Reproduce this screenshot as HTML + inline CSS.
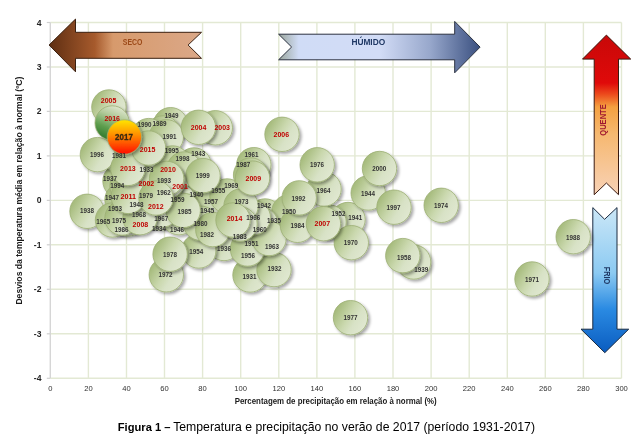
<!DOCTYPE html>
<html><head><meta charset="utf-8"><style>
html,body{margin:0;padding:0;background:#fff;width:638px;height:444px;overflow:hidden}
svg{display:block;will-change:transform}
text{font-family:"Liberation Sans",sans-serif}
</style></head><body>
<svg width="638" height="444" viewBox="0 0 638 444">
<defs>
<linearGradient id="gb" x1="0" y1="0.2" x2="1" y2="0.8">
<stop offset="0" stop-color="#9db470"/><stop offset="0.45" stop-color="#cad8ae"/><stop offset="0.65" stop-color="#d8e2c6"/><stop offset="1" stop-color="#e2e9d3"/>
</linearGradient>
<linearGradient id="g16" x1="0.65" y1="0" x2="0.25" y2="1">
<stop offset="0" stop-color="#e0e8d0"/><stop offset="0.3" stop-color="#b2ca9a"/><stop offset="0.65" stop-color="#5e9e4e"/><stop offset="1" stop-color="#2a7428"/>
</linearGradient>
<linearGradient id="g17" x1="0" y1="0" x2="0" y2="1">
<stop offset="0" stop-color="#ffe600"/><stop offset="0.45" stop-color="#ff8c00"/><stop offset="1" stop-color="#ff0a00"/>
</linearGradient>
<linearGradient id="gseco" x1="0" y1="0" x2="1" y2="0">
<stop offset="0" stop-color="#5e2e12"/><stop offset="0.3" stop-color="#a65a2c"/><stop offset="0.42" stop-color="#d79a6c"/><stop offset="1" stop-color="#dba888"/>
</linearGradient>
<linearGradient id="ghum" x1="0" y1="0" x2="1" y2="0">
<stop offset="0" stop-color="#9aa59b"/><stop offset="0.1" stop-color="#d0dcf6"/><stop offset="0.5" stop-color="#d2dcf6"/><stop offset="0.75" stop-color="#98a8cc"/><stop offset="1" stop-color="#3a5080"/>
</linearGradient>
<linearGradient id="gq" x1="0" y1="0" x2="0" y2="1">
<stop offset="0" stop-color="#c80808"/><stop offset="0.3" stop-color="#e00a0a"/><stop offset="0.37" stop-color="#ec4a1c"/><stop offset="0.45" stop-color="#f5a040"/><stop offset="0.62" stop-color="#f6b870"/><stop offset="1" stop-color="#f8d2b6"/>
</linearGradient>
<linearGradient id="gf" x1="0" y1="0" x2="0" y2="1">
<stop offset="0" stop-color="#cbe7f7"/><stop offset="0.45" stop-color="#8ccaf2"/><stop offset="0.7" stop-color="#2a8ae2"/><stop offset="1" stop-color="#0a5cc0"/>
</linearGradient>
<filter id="sh" x="-30%" y="-30%" width="160%" height="160%">
<feGaussianBlur in="SourceAlpha" stdDeviation="1.6"/><feOffset dx="1.5" dy="1.5" result="o"/>
<feComponentTransfer><feFuncA type="linear" slope="0.35"/></feComponentTransfer>
<feMerge><feMergeNode/><feMergeNode in="SourceGraphic"/></feMerge>
</filter>
</defs>

<g stroke="#e3e9d4" stroke-width="1.4"><line x1="88.4" y1="22.5" x2="88.4" y2="378.3"/><line x1="126.5" y1="22.5" x2="126.5" y2="378.3"/><line x1="164.5" y1="22.5" x2="164.5" y2="378.3"/><line x1="202.6" y1="22.5" x2="202.6" y2="378.3"/><line x1="240.7" y1="22.5" x2="240.7" y2="378.3"/><line x1="278.8" y1="22.5" x2="278.8" y2="378.3"/><line x1="316.9" y1="22.5" x2="316.9" y2="378.3"/><line x1="354.9" y1="22.5" x2="354.9" y2="378.3"/><line x1="393.0" y1="22.5" x2="393.0" y2="378.3"/><line x1="431.1" y1="22.5" x2="431.1" y2="378.3"/><line x1="469.2" y1="22.5" x2="469.2" y2="378.3"/><line x1="507.3" y1="22.5" x2="507.3" y2="378.3"/><line x1="545.3" y1="22.5" x2="545.3" y2="378.3"/><line x1="583.4" y1="22.5" x2="583.4" y2="378.3"/><line x1="621.5" y1="22.5" x2="621.5" y2="378.3"/><line x1="50.3" y1="22.5" x2="621.5" y2="22.5"/><line x1="50.3" y1="67.0" x2="621.5" y2="67.0"/><line x1="50.3" y1="111.4" x2="621.5" y2="111.4"/><line x1="50.3" y1="155.9" x2="621.5" y2="155.9"/><line x1="50.3" y1="200.4" x2="621.5" y2="200.4"/><line x1="50.3" y1="244.8" x2="621.5" y2="244.8"/><line x1="50.3" y1="289.3" x2="621.5" y2="289.3"/><line x1="50.3" y1="333.8" x2="621.5" y2="333.8"/><line x1="50.3" y1="378.3" x2="621.5" y2="378.3"/></g>
<line x1="50.3" y1="22.5" x2="50.3" y2="378.3" stroke="#d6d6d6" stroke-width="1.4"/>
<g stroke="#d0d0d0" stroke-width="1.2"><line x1="46.8" y1="22.5" x2="50.3" y2="22.5"/><line x1="46.8" y1="67.0" x2="50.3" y2="67.0"/><line x1="46.8" y1="111.4" x2="50.3" y2="111.4"/><line x1="46.8" y1="155.9" x2="50.3" y2="155.9"/><line x1="46.8" y1="200.4" x2="50.3" y2="200.4"/><line x1="46.8" y1="244.8" x2="50.3" y2="244.8"/><line x1="46.8" y1="289.3" x2="50.3" y2="289.3"/><line x1="46.8" y1="333.8" x2="50.3" y2="333.8"/><line x1="46.8" y1="378.3" x2="50.3" y2="378.3"/></g>
<g font-size="8.6" font-weight="bold" fill="#262626"><text x="41.5" y="25.5" text-anchor="end">4</text><text x="41.5" y="70.0" text-anchor="end">3</text><text x="41.5" y="114.4" text-anchor="end">2</text><text x="41.5" y="158.9" text-anchor="end">1</text><text x="41.5" y="203.4" text-anchor="end">0</text><text x="41.5" y="247.8" text-anchor="end">-1</text><text x="41.5" y="292.3" text-anchor="end">-2</text><text x="41.5" y="336.8" text-anchor="end">-3</text><text x="41.5" y="381.3" text-anchor="end">-4</text></g>
<g font-size="7.6" fill="#303030"><text x="50.3" y="391.2" text-anchor="middle">0</text><text x="88.4" y="391.2" text-anchor="middle">20</text><text x="126.5" y="391.2" text-anchor="middle">40</text><text x="164.5" y="391.2" text-anchor="middle">60</text><text x="202.6" y="391.2" text-anchor="middle">80</text><text x="240.7" y="391.2" text-anchor="middle">100</text><text x="278.8" y="391.2" text-anchor="middle">120</text><text x="316.9" y="391.2" text-anchor="middle">140</text><text x="354.9" y="391.2" text-anchor="middle">160</text><text x="393.0" y="391.2" text-anchor="middle">180</text><text x="431.1" y="391.2" text-anchor="middle">200</text><text x="469.2" y="391.2" text-anchor="middle">220</text><text x="507.3" y="391.2" text-anchor="middle">240</text><text x="545.3" y="391.2" text-anchor="middle">260</text><text x="583.4" y="391.2" text-anchor="middle">280</text><text x="621.5" y="391.2" text-anchor="middle">300</text></g>
<text x="234.7" y="403.6" font-size="8.6" font-weight="bold" fill="#1a1a1a" textLength="202" lengthAdjust="spacingAndGlyphs">Percentagem de precipitação em relação à normal (%)</text>
<text transform="translate(21.7,304.6) rotate(-90)" x="0" y="0" font-size="8.4" font-weight="bold" fill="#1a1a1a" textLength="228" lengthAdjust="spacingAndGlyphs">Desvios da temperatura média em relação à normal  (ºC)</text>
<text x="117.8" y="430.6" font-size="11.6" font-weight="bold" fill="#000" textLength="52.6" lengthAdjust="spacingAndGlyphs">Figura 1 –</text><text x="173.2" y="430.6" font-size="11.9" fill="#000" textLength="361.8" lengthAdjust="spacingAndGlyphs">Temperatura e precipitação no verão de 2017 (período 1931-2017)</text>
<path d="M49.1,45 L75.5,19.1 L75.5,32.3 L201.5,32.3 L188.1,45 L201.5,58.3 L75.5,58.3 L75.5,71.8 Z" fill="url(#gseco)" stroke="#3a2010" stroke-width="1"/>
<text x="132.6" y="44.6" font-size="8.6" font-weight="bold" fill="#9c4a18" text-anchor="middle" textLength="19.6" lengthAdjust="spacingAndGlyphs">SECO</text>
<path d="M278.6,34.2 L454.7,34.2 L454.7,21.4 L480.1,47.1 L454.7,72.8 L454.7,59.8 L278.6,59.8 L291.6,47 Z" fill="url(#ghum)" stroke="#2a3040" stroke-width="1"/>
<text x="368.3" y="45.2" font-size="8.6" font-weight="bold" fill="#1f3864" text-anchor="middle" textLength="33.8" lengthAdjust="spacingAndGlyphs">HÚMIDO</text>
<path d="M606.4,35.1 L630.7,59.1 L618.5,59.1 L618.5,194.7 L606.4,183 L594.2,194.7 L594.2,59.1 L582.5,59.1 Z" fill="url(#gq)" stroke="#3a1a10" stroke-width="1"/>
<text transform="translate(605.5,120) rotate(-90)" x="0" y="0" font-size="9" font-weight="bold" fill="#a01830" text-anchor="middle" textLength="31.5" lengthAdjust="spacingAndGlyphs">QUENTE</text>
<path d="M592.8,207.6 L604.6,219.3 L617,207.6 L617,329.2 L628.7,329.2 L604.8,352.7 L581,329.2 L592.8,329.2 Z" fill="url(#gf)" stroke="#1a2a40" stroke-width="1"/>
<text transform="translate(603.8,275.5) rotate(90)" x="0" y="0" font-size="9" font-weight="bold" fill="#1f3864" text-anchor="middle" textLength="17.5" lengthAdjust="spacingAndGlyphs">FRIO</text>
<circle cx="250" cy="275" r="17.2" fill="url(#gb)" stroke="#9cae74" stroke-width="0.8" filter="url(#sh)"/>
<circle cx="274" cy="269.6" r="17.2" fill="url(#gb)" stroke="#9cae74" stroke-width="0.8" filter="url(#sh)"/>
<circle cx="146.4" cy="169" r="17.2" fill="url(#gb)" stroke="#9cae74" stroke-width="0.8" filter="url(#sh)"/>
<circle cx="160" cy="213" r="17.2" fill="url(#gb)" stroke="#9cae74" stroke-width="0.8" filter="url(#sh)"/>
<circle cx="274" cy="220.5" r="17.2" fill="url(#gb)" stroke="#9cae74" stroke-width="0.8" filter="url(#sh)"/>
<circle cx="224" cy="243.5" r="17.2" fill="url(#gb)" stroke="#9cae74" stroke-width="0.8" filter="url(#sh)"/>
<circle cx="120" cy="181" r="17.2" fill="url(#gb)" stroke="#9cae74" stroke-width="0.8" filter="url(#sh)"/>
<circle cx="87" cy="211.3" r="17.2" fill="url(#gb)" stroke="#9cae74" stroke-width="0.8" filter="url(#sh)"/>
<circle cx="413.6" cy="262" r="17.2" fill="url(#gb)" stroke="#9cae74" stroke-width="0.8" filter="url(#sh)"/>
<circle cx="205" cy="186" r="17.2" fill="url(#gb)" stroke="#9cae74" stroke-width="0.8" filter="url(#sh)"/>
<circle cx="348" cy="219.5" r="17.2" fill="url(#gb)" stroke="#9cae74" stroke-width="0.8" filter="url(#sh)"/>
<circle cx="265" cy="216" r="17.2" fill="url(#gb)" stroke="#9cae74" stroke-width="0.8" filter="url(#sh)"/>
<circle cx="194" cy="165" r="17.2" fill="url(#gb)" stroke="#9cae74" stroke-width="0.8" filter="url(#sh)"/>
<circle cx="368.2" cy="193" r="17.2" fill="url(#gb)" stroke="#9cae74" stroke-width="0.8" filter="url(#sh)"/>
<circle cx="207.3" cy="210.5" r="17.2" fill="url(#gb)" stroke="#9cae74" stroke-width="0.8" filter="url(#sh)"/>
<circle cx="179" cy="217.7" r="17.2" fill="url(#gb)" stroke="#9cae74" stroke-width="0.8" filter="url(#sh)"/>
<circle cx="122" cy="200" r="17.2" fill="url(#gb)" stroke="#9cae74" stroke-width="0.8" filter="url(#sh)"/>
<circle cx="136.4" cy="204.9" r="17.2" fill="url(#gb)" stroke="#9cae74" stroke-width="0.8" filter="url(#sh)"/>
<circle cx="170.5" cy="124.7" r="17.2" fill="url(#gb)" stroke="#9cae74" stroke-width="0.8" filter="url(#sh)"/>
<circle cx="288.9" cy="211.9" r="17.2" fill="url(#gb)" stroke="#9cae74" stroke-width="0.8" filter="url(#sh)"/>
<circle cx="252" cy="238" r="17.2" fill="url(#gb)" stroke="#9cae74" stroke-width="0.8" filter="url(#sh)"/>
<circle cx="329" cy="222" r="17.2" fill="url(#gb)" stroke="#9cae74" stroke-width="0.8" filter="url(#sh)"/>
<circle cx="130" cy="210" r="17.2" fill="url(#gb)" stroke="#9cae74" stroke-width="0.8" filter="url(#sh)"/>
<circle cx="198.7" cy="251" r="17.2" fill="url(#gb)" stroke="#9cae74" stroke-width="0.8" filter="url(#sh)"/>
<circle cx="215" cy="200" r="17.2" fill="url(#gb)" stroke="#9cae74" stroke-width="0.8" filter="url(#sh)"/>
<circle cx="247.5" cy="249" r="17.2" fill="url(#gb)" stroke="#9cae74" stroke-width="0.8" filter="url(#sh)"/>
<circle cx="211" cy="201.2" r="17.2" fill="url(#gb)" stroke="#9cae74" stroke-width="0.8" filter="url(#sh)"/>
<circle cx="402.8" cy="255.6" r="17.2" fill="url(#gb)" stroke="#9cae74" stroke-width="0.8" filter="url(#sh)"/>
<circle cx="177.6" cy="199.4" r="17.2" fill="url(#gb)" stroke="#9cae74" stroke-width="0.8" filter="url(#sh)"/>
<circle cx="261" cy="224.5" r="17.2" fill="url(#gb)" stroke="#9cae74" stroke-width="0.8" filter="url(#sh)"/>
<circle cx="253.8" cy="164.7" r="17.2" fill="url(#gb)" stroke="#9cae74" stroke-width="0.8" filter="url(#sh)"/>
<circle cx="163.8" cy="192" r="17.2" fill="url(#gb)" stroke="#9cae74" stroke-width="0.8" filter="url(#sh)"/>
<circle cx="269" cy="238.5" r="17.2" fill="url(#gb)" stroke="#9cae74" stroke-width="0.8" filter="url(#sh)"/>
<circle cx="324" cy="189" r="17.2" fill="url(#gb)" stroke="#9cae74" stroke-width="0.8" filter="url(#sh)"/>
<circle cx="112.5" cy="220" r="17.2" fill="url(#gb)" stroke="#9cae74" stroke-width="0.8" filter="url(#sh)"/>
<circle cx="253.3" cy="217.6" r="17.2" fill="url(#gb)" stroke="#9cae74" stroke-width="0.8" filter="url(#sh)"/>
<circle cx="162" cy="210" r="17.2" fill="url(#gb)" stroke="#9cae74" stroke-width="0.8" filter="url(#sh)"/>
<circle cx="139" cy="214" r="17.2" fill="url(#gb)" stroke="#9cae74" stroke-width="0.8" filter="url(#sh)"/>
<circle cx="227" cy="196" r="17.2" fill="url(#gb)" stroke="#9cae74" stroke-width="0.8" filter="url(#sh)"/>
<circle cx="351.3" cy="242.7" r="17.2" fill="url(#gb)" stroke="#9cae74" stroke-width="0.8" filter="url(#sh)"/>
<circle cx="532" cy="279" r="17.2" fill="url(#gb)" stroke="#9cae74" stroke-width="0.8" filter="url(#sh)"/>
<circle cx="166.3" cy="274.8" r="17.2" fill="url(#gb)" stroke="#9cae74" stroke-width="0.8" filter="url(#sh)"/>
<circle cx="241" cy="206" r="17.2" fill="url(#gb)" stroke="#9cae74" stroke-width="0.8" filter="url(#sh)"/>
<circle cx="441.2" cy="205.3" r="17.2" fill="url(#gb)" stroke="#9cae74" stroke-width="0.8" filter="url(#sh)"/>
<circle cx="128" cy="219" r="17.2" fill="url(#gb)" stroke="#9cae74" stroke-width="0.8" filter="url(#sh)"/>
<circle cx="317.2" cy="164.8" r="17.2" fill="url(#gb)" stroke="#9cae74" stroke-width="0.8" filter="url(#sh)"/>
<circle cx="350.5" cy="317.7" r="17.2" fill="url(#gb)" stroke="#9cae74" stroke-width="0.8" filter="url(#sh)"/>
<circle cx="170.1" cy="254.2" r="17.2" fill="url(#gb)" stroke="#9cae74" stroke-width="0.8" filter="url(#sh)"/>
<circle cx="146" cy="195.2" r="17.2" fill="url(#gb)" stroke="#9cae74" stroke-width="0.8" filter="url(#sh)"/>
<circle cx="200.5" cy="223.2" r="17.2" fill="url(#gb)" stroke="#9cae74" stroke-width="0.8" filter="url(#sh)"/>
<circle cx="119" cy="155.7" r="17.2" fill="url(#gb)" stroke="#9cae74" stroke-width="0.8" filter="url(#sh)"/>
<circle cx="212.8" cy="229.6" r="17.2" fill="url(#gb)" stroke="#9cae74" stroke-width="0.8" filter="url(#sh)"/>
<circle cx="240" cy="224" r="17.2" fill="url(#gb)" stroke="#9cae74" stroke-width="0.8" filter="url(#sh)"/>
<circle cx="297.4" cy="225.3" r="17.2" fill="url(#gb)" stroke="#9cae74" stroke-width="0.8" filter="url(#sh)"/>
<circle cx="183.2" cy="210.4" r="17.2" fill="url(#gb)" stroke="#9cae74" stroke-width="0.8" filter="url(#sh)"/>
<circle cx="122" cy="218" r="17.2" fill="url(#gb)" stroke="#9cae74" stroke-width="0.8" filter="url(#sh)"/>
<circle cx="250.6" cy="175" r="17.2" fill="url(#gb)" stroke="#9cae74" stroke-width="0.8" filter="url(#sh)"/>
<circle cx="573.2" cy="236.7" r="17.2" fill="url(#gb)" stroke="#9cae74" stroke-width="0.8" filter="url(#sh)"/>
<circle cx="163" cy="133" r="17.2" fill="url(#gb)" stroke="#9cae74" stroke-width="0.8" filter="url(#sh)"/>
<circle cx="148.7" cy="135.6" r="17.2" fill="url(#gb)" stroke="#9cae74" stroke-width="0.8" filter="url(#sh)"/>
<circle cx="166.3" cy="136.8" r="17.2" fill="url(#gb)" stroke="#9cae74" stroke-width="0.8" filter="url(#sh)"/>
<circle cx="299.2" cy="197.9" r="17.2" fill="url(#gb)" stroke="#9cae74" stroke-width="0.8" filter="url(#sh)"/>
<circle cx="163.9" cy="180.2" r="17.2" fill="url(#gb)" stroke="#9cae74" stroke-width="0.8" filter="url(#sh)"/>
<circle cx="127" cy="186" r="17.2" fill="url(#gb)" stroke="#9cae74" stroke-width="0.8" filter="url(#sh)"/>
<circle cx="172.5" cy="163" r="17.2" fill="url(#gb)" stroke="#9cae74" stroke-width="0.8" filter="url(#sh)"/>
<circle cx="97.4" cy="154.6" r="17.2" fill="url(#gb)" stroke="#9cae74" stroke-width="0.8" filter="url(#sh)"/>
<circle cx="394" cy="207.2" r="17.2" fill="url(#gb)" stroke="#9cae74" stroke-width="0.8" filter="url(#sh)"/>
<circle cx="184" cy="169" r="17.2" fill="url(#gb)" stroke="#9cae74" stroke-width="0.8" filter="url(#sh)"/>
<circle cx="203" cy="175.6" r="17.2" fill="url(#gb)" stroke="#9cae74" stroke-width="0.8" filter="url(#sh)"/>
<circle cx="379.5" cy="168.5" r="17.2" fill="url(#gb)" stroke="#9cae74" stroke-width="0.8" filter="url(#sh)"/>
<circle cx="168" cy="181" r="17.2" fill="url(#gb)" stroke="#9cae74" stroke-width="0.8" filter="url(#sh)"/>
<circle cx="146.4" cy="183.2" r="17.2" fill="url(#gb)" stroke="#9cae74" stroke-width="0.8" filter="url(#sh)"/>
<circle cx="215.3" cy="127.8" r="17.2" fill="url(#gb)" stroke="#9cae74" stroke-width="0.8" filter="url(#sh)"/>
<circle cx="198.4" cy="127.3" r="17.2" fill="url(#gb)" stroke="#9cae74" stroke-width="0.8" filter="url(#sh)"/>
<circle cx="108.9" cy="107" r="17.2" fill="url(#gb)" stroke="#9cae74" stroke-width="0.8" filter="url(#sh)"/>
<circle cx="282" cy="134.3" r="17.2" fill="url(#gb)" stroke="#9cae74" stroke-width="0.8" filter="url(#sh)"/>
<circle cx="323.4" cy="223.7" r="17.2" fill="url(#gb)" stroke="#9cae74" stroke-width="0.8" filter="url(#sh)"/>
<circle cx="140" cy="217.7" r="17.2" fill="url(#gb)" stroke="#9cae74" stroke-width="0.8" filter="url(#sh)"/>
<circle cx="252.5" cy="178.1" r="17.2" fill="url(#gb)" stroke="#9cae74" stroke-width="0.8" filter="url(#sh)"/>
<circle cx="166.6" cy="178.4" r="17.2" fill="url(#gb)" stroke="#9cae74" stroke-width="0.8" filter="url(#sh)"/>
<circle cx="128.2" cy="196.4" r="17.2" fill="url(#gb)" stroke="#9cae74" stroke-width="0.8" filter="url(#sh)"/>
<circle cx="156" cy="198" r="17.2" fill="url(#gb)" stroke="#9cae74" stroke-width="0.8" filter="url(#sh)"/>
<circle cx="127.9" cy="168.4" r="17.2" fill="url(#gb)" stroke="#9cae74" stroke-width="0.8" filter="url(#sh)"/>
<circle cx="233" cy="220" r="17.2" fill="url(#gb)" stroke="#9cae74" stroke-width="0.8" filter="url(#sh)"/>
<circle cx="148.5" cy="148" r="17.2" fill="url(#gb)" stroke="#9cae74" stroke-width="0.8" filter="url(#sh)"/>
<circle cx="112.2" cy="123" r="17.2" fill="url(#g16)" stroke="#9cae74" stroke-width="0.8" filter="url(#sh)"/>
<circle cx="124.4" cy="137" r="17.2" fill="url(#g17)" stroke="#9cae74" stroke-width="0.8" filter="url(#sh)"/>
<g font-size="7.2" font-weight="bold" text-anchor="middle"><text x="249.6" y="278.8" fill="#333" textLength="14" lengthAdjust="spacingAndGlyphs">1931</text><text x="274.4" y="271.4" fill="#333" textLength="14" lengthAdjust="spacingAndGlyphs">1932</text><text x="146.4" y="171.5" fill="#333" textLength="14" lengthAdjust="spacingAndGlyphs">1933</text><text x="159" y="231.3" fill="#333" textLength="14" lengthAdjust="spacingAndGlyphs">1934</text><text x="274" y="223.0" fill="#333" textLength="14" lengthAdjust="spacingAndGlyphs">1935</text><text x="224" y="251.3" fill="#333" textLength="14" lengthAdjust="spacingAndGlyphs">1936</text><text x="110" y="181.2" fill="#333" textLength="14" lengthAdjust="spacingAndGlyphs">1937</text><text x="87" y="213.2" fill="#333" textLength="14" lengthAdjust="spacingAndGlyphs">1938</text><text x="421.2" y="272.0" fill="#333" textLength="14" lengthAdjust="spacingAndGlyphs">1939</text><text x="196.4" y="197.3" fill="#333" textLength="14" lengthAdjust="spacingAndGlyphs">1940</text><text x="355.2" y="219.7" fill="#333" textLength="14" lengthAdjust="spacingAndGlyphs">1941</text><text x="264" y="208.2" fill="#333" textLength="14" lengthAdjust="spacingAndGlyphs">1942</text><text x="198.3" y="156.1" fill="#333" textLength="14" lengthAdjust="spacingAndGlyphs">1943</text><text x="368" y="195.9" fill="#333" textLength="14" lengthAdjust="spacingAndGlyphs">1944</text><text x="207.3" y="213.0" fill="#333" textLength="14" lengthAdjust="spacingAndGlyphs">1945</text><text x="177" y="232.3" fill="#333" textLength="14" lengthAdjust="spacingAndGlyphs">1946</text><text x="112" y="199.5" fill="#333" textLength="14" lengthAdjust="spacingAndGlyphs">1947</text><text x="136.4" y="207.4" fill="#333" textLength="14" lengthAdjust="spacingAndGlyphs">1948</text><text x="171.6" y="118.2" fill="#333" textLength="14" lengthAdjust="spacingAndGlyphs">1949</text><text x="288.9" y="214.4" fill="#333" textLength="14" lengthAdjust="spacingAndGlyphs">1950</text><text x="251.5" y="245.7" fill="#333" textLength="14" lengthAdjust="spacingAndGlyphs">1951</text><text x="338.6" y="215.6" fill="#333" textLength="14" lengthAdjust="spacingAndGlyphs">1952</text><text x="115.1" y="211.3" fill="#333" textLength="14" lengthAdjust="spacingAndGlyphs">1953</text><text x="196.3" y="253.5" fill="#333" textLength="14" lengthAdjust="spacingAndGlyphs">1954</text><text x="218.2" y="193.2" fill="#333" textLength="14" lengthAdjust="spacingAndGlyphs">1955</text><text x="248" y="258.0" fill="#333" textLength="14" lengthAdjust="spacingAndGlyphs">1956</text><text x="211" y="203.7" fill="#333" textLength="14" lengthAdjust="spacingAndGlyphs">1957</text><text x="403.9" y="259.5" fill="#333" textLength="14" lengthAdjust="spacingAndGlyphs">1958</text><text x="177.6" y="201.9" fill="#333" textLength="14" lengthAdjust="spacingAndGlyphs">1959</text><text x="259.8" y="231.7" fill="#333" textLength="14" lengthAdjust="spacingAndGlyphs">1960</text><text x="251.4" y="156.5" fill="#333" textLength="14" lengthAdjust="spacingAndGlyphs">1961</text><text x="163.8" y="194.5" fill="#333" textLength="14" lengthAdjust="spacingAndGlyphs">1962</text><text x="272" y="248.5" fill="#333" textLength="14" lengthAdjust="spacingAndGlyphs">1963</text><text x="323.4" y="192.6" fill="#333" textLength="14" lengthAdjust="spacingAndGlyphs">1964</text><text x="103.3" y="223.8" fill="#333" textLength="14" lengthAdjust="spacingAndGlyphs">1965</text><text x="253.3" y="220.1" fill="#333" textLength="14" lengthAdjust="spacingAndGlyphs">1966</text><text x="161.3" y="221.4" fill="#333" textLength="14" lengthAdjust="spacingAndGlyphs">1967</text><text x="139" y="216.5" fill="#333" textLength="14" lengthAdjust="spacingAndGlyphs">1968</text><text x="231.3" y="187.9" fill="#333" textLength="14" lengthAdjust="spacingAndGlyphs">1969</text><text x="350.7" y="245.0" fill="#333" textLength="14" lengthAdjust="spacingAndGlyphs">1970</text><text x="532" y="281.5" fill="#333" textLength="14" lengthAdjust="spacingAndGlyphs">1971</text><text x="165.6" y="277.1" fill="#333" textLength="14" lengthAdjust="spacingAndGlyphs">1972</text><text x="241.4" y="204.1" fill="#333" textLength="14" lengthAdjust="spacingAndGlyphs">1973</text><text x="441" y="207.6" fill="#333" textLength="14" lengthAdjust="spacingAndGlyphs">1974</text><text x="118.9" y="223.0" fill="#333" textLength="14" lengthAdjust="spacingAndGlyphs">1975</text><text x="317" y="167.4" fill="#333" textLength="14" lengthAdjust="spacingAndGlyphs">1976</text><text x="350.5" y="320.2" fill="#333" textLength="14" lengthAdjust="spacingAndGlyphs">1977</text><text x="170.1" y="256.9" fill="#333" textLength="14" lengthAdjust="spacingAndGlyphs">1978</text><text x="146" y="197.7" fill="#333" textLength="14" lengthAdjust="spacingAndGlyphs">1979</text><text x="200.5" y="225.7" fill="#333" textLength="14" lengthAdjust="spacingAndGlyphs">1980</text><text x="119" y="158.2" fill="#333" textLength="14" lengthAdjust="spacingAndGlyphs">1981</text><text x="207" y="237.2" fill="#333" textLength="14" lengthAdjust="spacingAndGlyphs">1982</text><text x="239.7" y="238.7" fill="#333" textLength="14" lengthAdjust="spacingAndGlyphs">1983</text><text x="297.4" y="227.8" fill="#333" textLength="14" lengthAdjust="spacingAndGlyphs">1984</text><text x="184.5" y="213.8" fill="#333" textLength="14" lengthAdjust="spacingAndGlyphs">1985</text><text x="121.4" y="232.4" fill="#333" textLength="14" lengthAdjust="spacingAndGlyphs">1986</text><text x="243.3" y="167.0" fill="#333" textLength="14" lengthAdjust="spacingAndGlyphs">1987</text><text x="573" y="239.5" fill="#333" textLength="14" lengthAdjust="spacingAndGlyphs">1988</text><text x="159.5" y="126.1" fill="#333" textLength="14" lengthAdjust="spacingAndGlyphs">1989</text><text x="144.4" y="127.3" fill="#333" textLength="14" lengthAdjust="spacingAndGlyphs">1990</text><text x="169.5" y="138.9" fill="#333" textLength="14" lengthAdjust="spacingAndGlyphs">1991</text><text x="298.6" y="200.5" fill="#333" textLength="14" lengthAdjust="spacingAndGlyphs">1992</text><text x="163.9" y="182.7" fill="#333" textLength="14" lengthAdjust="spacingAndGlyphs">1993</text><text x="117.3" y="187.5" fill="#333" textLength="14" lengthAdjust="spacingAndGlyphs">1994</text><text x="171.7" y="152.7" fill="#333" textLength="14" lengthAdjust="spacingAndGlyphs">1995</text><text x="97" y="157.2" fill="#333" textLength="14" lengthAdjust="spacingAndGlyphs">1996</text><text x="393.6" y="209.8" fill="#333" textLength="14" lengthAdjust="spacingAndGlyphs">1997</text><text x="182.4" y="161.3" fill="#333" textLength="14" lengthAdjust="spacingAndGlyphs">1998</text><text x="202.7" y="177.9" fill="#333" textLength="14" lengthAdjust="spacingAndGlyphs">1999</text><text x="379.2" y="171.1" fill="#333" textLength="14" lengthAdjust="spacingAndGlyphs">2000</text><text x="180.1" y="189.1" fill="#c00000" textLength="15.6" lengthAdjust="spacingAndGlyphs">2001</text><text x="146.4" y="185.89999999999998" fill="#c00000" textLength="15.6" lengthAdjust="spacingAndGlyphs">2002</text><text x="222.2" y="130.0" fill="#c00000" textLength="15.6" lengthAdjust="spacingAndGlyphs">2003</text><text x="198.6" y="130.0" fill="#c00000" textLength="15.6" lengthAdjust="spacingAndGlyphs">2004</text><text x="108.6" y="103.4" fill="#c00000" textLength="15.6" lengthAdjust="spacingAndGlyphs">2005</text><text x="281.3" y="137.29999999999998" fill="#c00000" textLength="15.6" lengthAdjust="spacingAndGlyphs">2006</text><text x="322.3" y="226.0" fill="#c00000" textLength="15.6" lengthAdjust="spacingAndGlyphs">2007</text><text x="140.4" y="227.39999999999998" fill="#c00000" textLength="15.6" lengthAdjust="spacingAndGlyphs">2008</text><text x="253.3" y="181.0" fill="#c00000" textLength="15.6" lengthAdjust="spacingAndGlyphs">2009</text><text x="168" y="171.89999999999998" fill="#c00000" textLength="15.6" lengthAdjust="spacingAndGlyphs">2010</text><text x="128.2" y="199.1" fill="#c00000" textLength="15.6" lengthAdjust="spacingAndGlyphs">2011</text><text x="155.8" y="209.39999999999998" fill="#c00000" textLength="15.6" lengthAdjust="spacingAndGlyphs">2012</text><text x="127.9" y="171.1" fill="#c00000" textLength="15.6" lengthAdjust="spacingAndGlyphs">2013</text><text x="234.5" y="220.89999999999998" fill="#c00000" textLength="15.6" lengthAdjust="spacingAndGlyphs">2014</text><text x="147.6" y="152.2" fill="#c00000" textLength="15.6" lengthAdjust="spacingAndGlyphs">2015</text><text x="112.2" y="120.9" fill="#c00000" textLength="15.6" lengthAdjust="spacingAndGlyphs">2016</text><text x="124" y="140.3" font-size="9" fill="#3a2a10" stroke="#3a2a10" stroke-width="0.3" textLength="17.8" lengthAdjust="spacingAndGlyphs">2017</text></g>
</svg></body></html>
